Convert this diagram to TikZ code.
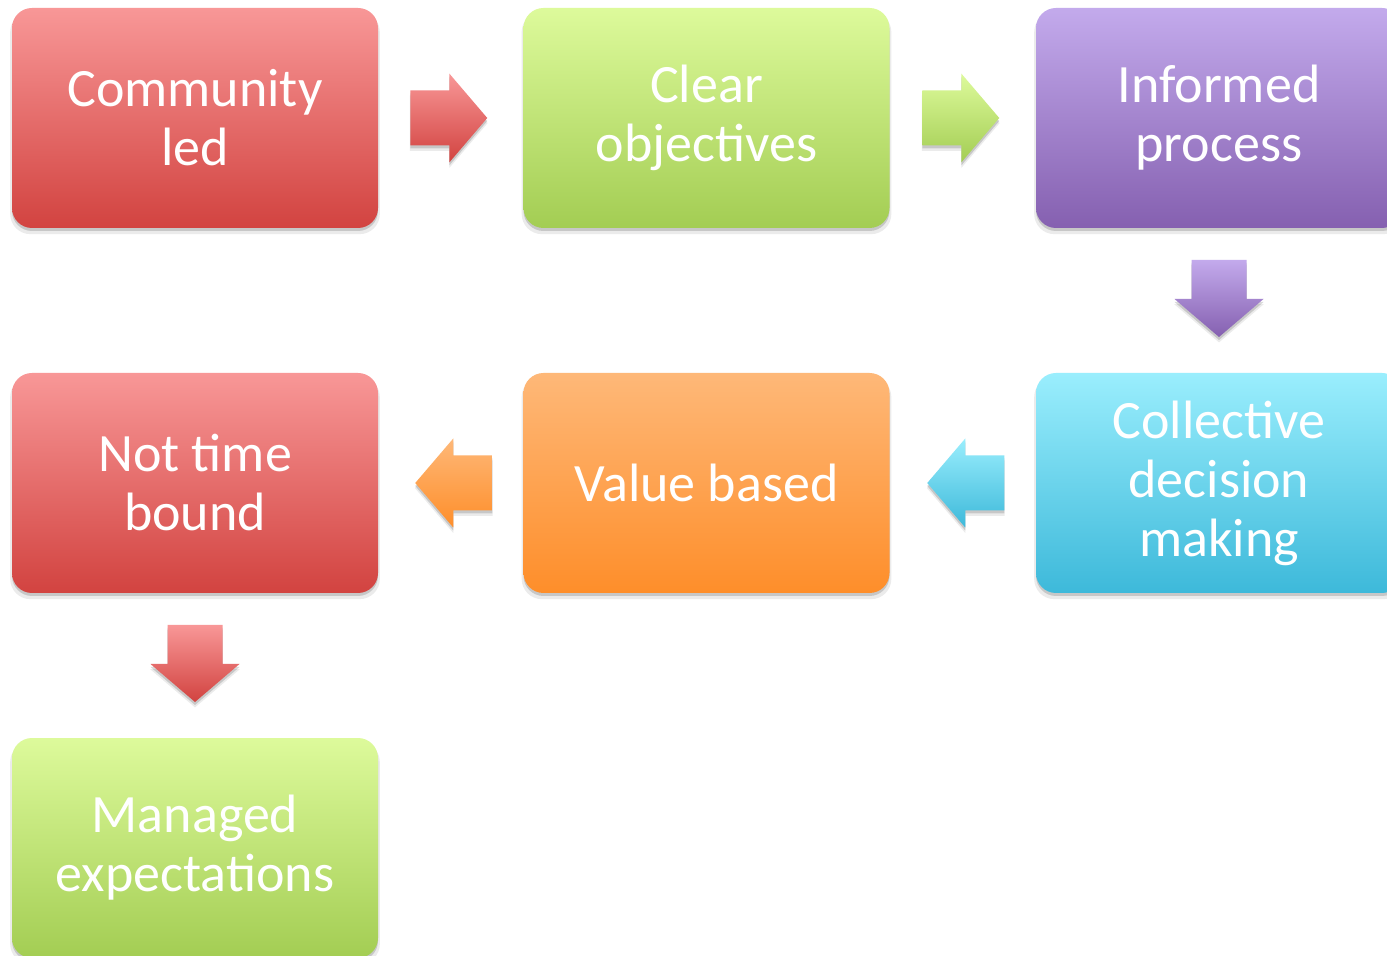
\documentclass[tikz,border=0pt]{standalone}
\usepackage{fontspec}
\setmainfont{Carlito}
\usetikzlibrary{calc,shadows}
\definecolor{redtop}{HTML}{F89797}
\definecolor{redbot}{HTML}{D24340}
\definecolor{greentop}{HTML}{DDFA9B}
\definecolor{greenbot}{HTML}{A3CD53}
\definecolor{purpletop}{HTML}{C3AAEC}
\definecolor{purplebot}{HTML}{8560B0}
\definecolor{cyantop}{HTML}{9AEEFD}
\definecolor{cyanbot}{HTML}{3DB9DA}
\definecolor{orangetop}{HTML}{FEB878}
\definecolor{orangebot}{HTML}{FE8E2A}

\tikzset{
	softshadow/.style={
		drop shadow={shadow xshift=0pt, shadow yshift=-2.5pt, opacity=0.08, fill=black, shadow scale=1.01},
		drop shadow={shadow xshift=0pt, shadow yshift=-1.5pt, opacity=0.15, fill=black}},
	box/.style={rounded corners=10pt, minimum width=183pt, minimum height=110pt,
		text=white, align=center, font=\fontsize{27}{29.5}\selectfont, softshadow},
	redbox/.style={box, top color=redtop, bottom color=redbot},
	greenbox/.style={box, top color=greentop, bottom color=greenbot},
	purplebox/.style={box, top color=purpletop, bottom color=purplebot},
	cyanbox/.style={box, top color=cyantop, bottom color=cyanbot},
	orangebox/.style={box, top color=orangetop, bottom color=orangebot},
	pics/rarrow/.style 2 args={code={
		\shade[top color=#1, bottom color=#2, softshadow]
			(-40.5,-27.5) -- (-1.5,-27.5) -- (-1.5,-44.5) -- (36.5,0)
			-- (-1.5,44.5) -- (-1.5,27.5) -- (-40.5,27.5) -- cycle;
	}},
	pics/larrow/.style 2 args={code={
		\shade[top color=#1, bottom color=#2, softshadow]
			(41.5,-27.5) -- (2.5,-27.5) -- (2.5,-44.5) -- (-35.5,0)
			-- (2.5,44.5) -- (2.5,27.5) -- (41.5,27.5) -- cycle;
	}},
	pics/darrow/.style 2 args={code={
		\shade[top color=#1, bottom color=#2, softshadow]
			(-27.5,-40.5) -- (-27.5,-1.5) -- (-44.5,-1.5) -- (0,36.5)
			-- (44.5,-1.5) -- (27.5,-1.5) -- (27.5,-40.5) -- cycle;
	}},
}

\begin{document}
\begin{tikzpicture}[x=0.5pt, y=-0.5pt]

% parameters %{{{2

	\def\colA{195}
	\def\colB{706.5}
	\def\colC{1219}
	\def\rowA{118}
	\def\rowB{483}
	\def\rowC{848}

% canvas %{{{2

	\useasboundingbox (0,0) rectangle (1387,956);
	\fill[white] (0,0) rectangle (1387,956);
	\clip (0,0) rectangle (1387,956);

% boxes %{{{2

	\node[redbox] (comm) at (\colA,\rowA) {Community\\led};
	\node[greenbox] (clear) at (\colB,\rowA) {Clear\\objectives};
	\node[purplebox] (inform) at (\colC,\rowA) {Informed\\process};

	\node[cyanbox] (coll) at (\colC,\rowB) {Collective\\decision\\making};
	\node[orangebox] (value) at (\colB,\rowB) {Value based};
	\node[redbox] (nottime) at (\colA,\rowB) {Not time\\bound};

	\node[greenbox] (managed) at (\colA,\rowC) {Managed\\expectations};

% arrows %{{{2

	\coordinate (commclear) at ($(comm.east)!0.5!(clear.west)$);
	\coordinate (clearinform) at ($(clear.east)!0.5!(inform.west)$);
	\coordinate (informcoll) at ($(inform.south)!0.5!(coll.north)$);
	\coordinate (collvalue) at ($(coll.west)!0.5!(value.east)$);
	\coordinate (valuenottime) at ($(value.west)!0.5!(nottime.east)$);
	\coordinate (nottimemanaged) at ($(nottime.south)!0.5!(managed.north)$);

	\pic at (commclear) {rarrow={redtop}{redbot}};
	\pic at (clearinform) {rarrow={greentop}{greenbot}};
	\pic at (informcoll) {darrow={purpletop}{purplebot}};
	\pic at (collvalue) {larrow={cyantop}{cyanbot}};
	\pic at (valuenottime) {larrow={orangetop}{orangebot}};
	\pic at (nottimemanaged) {darrow={redtop}{redbot}};

\end{tikzpicture}
\end{document}
